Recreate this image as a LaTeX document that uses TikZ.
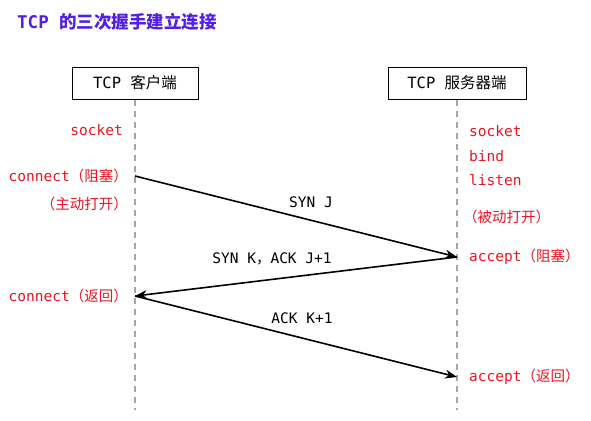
\documentclass[tikz,border=0pt]{standalone}
\usepackage{fontspec}
\setmonofont{DejaVu Sans Mono}
\newfontfamily\cjk{Noto Sans CJK SC}
\newcommand{\zh}[1]{{\cjk #1}}
\usetikzlibrary{arrows.meta}
\definecolor{callred}{RGB}{232,22,32}
\definecolor{titleblue}{RGB}{82,32,228}
\begin{document}
\begin{tikzpicture}[x=1pt,y=-1pt,
	box/.style={draw=black,line width=1pt,minimum width=126pt,minimum height=32pt,inner sep=0pt,font=\fontsize{15.5}{18}\selectfont\ttfamily},
	lbl/.style={inner sep=0pt,text=callred,font=\fontsize{14.5}{17}\selectfont\ttfamily},
	msgtxt/.style={inner sep=0pt,font=\fontsize{14.5}{17}\selectfont\ttfamily},
	life/.style={draw=black!35,line width=1.5pt,dash pattern=on 6pt off 5pt},
	msg/.style={draw=black,line width=1.6pt,-{Stealth[length=12pt,width=9pt]}}]
	\useasboundingbox (0,0) rectangle (591,420);
	\node (title) at (17,22)	[anchor=west,inner sep=0pt,text=titleblue,font=\fontsize{17.5}{20}\selectfont\ttfamily\bfseries]	{TCP \zh{的三次握手建立连接}};
	\node (client) at (135,83)	[box,minimum width=126pt]	{TCP \zh{客户端}};
	\node (server) at (457,83)	[box,minimum width=138pt]	{TCP \zh{服务器端}};
	\coordinate (cend) at (135,410);
	\coordinate (send) at (457,410);
	\draw[life] (client) -- (cend);
	\draw[life] (server) -- (send);
	\coordinate (c1) at (135,176);
	\coordinate (s1) at (457,257);
	\coordinate (c2) at (135,296);
	\coordinate (s2) at (457,377);
	\node (csocket) at (123,130)	[lbl,anchor=east]	{socket};
	\node (cconn) at (128,176)	[lbl,anchor=east]	{connect\zh{（阻塞）}};
	\node (copen) at (128,204)	[lbl,anchor=east]	{\zh{（主动打开）}};
	\node (cret) at (128,296)	[lbl,anchor=east]	{connect\zh{（返回）}};
	\node (ssocket) at (469,131)	[lbl,anchor=west]	{socket};
	\node (sbind) at (469,156)	[lbl,anchor=west]	{bind};
	\node (slisten) at (469,180)	[lbl,anchor=west]	{listen};
	\node (sopen) at (463,217)	[lbl,anchor=west]	{\zh{（被动打开）}};
	\node (sacc) at (469,257)	[lbl,anchor=west]	{accept\zh{（阻塞）}};
	\node (sret) at (469,377)	[lbl,anchor=west]	{accept\zh{（返回）}};
	\draw[msg] (c1) -- (s1);
	\draw[msg] (s1) -- (c2);
	\draw[msg] (c2) -- (s2);
	\node (syn) at (311,202)	[msgtxt]	{SYN J};
	\node (synack) at (272,259)	[msgtxt]	{SYN K\zh{，}ACK J+1};
	\node (ack) at (302,318)	[msgtxt]	{ACK K+1};
\end{tikzpicture}
\end{document}
